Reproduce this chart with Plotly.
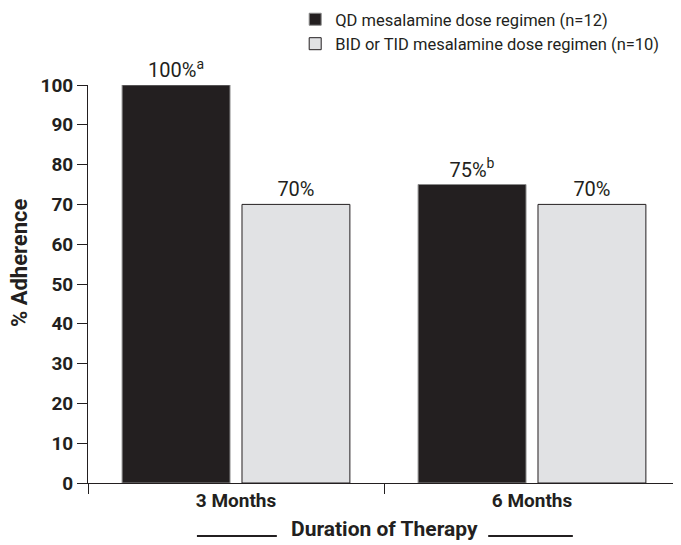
import plotly.graph_objects as go

categories = ["3 Months", "6 Months"]
qd_values = [100, 75]
qd_labels = ["100%<sup>a</sup>", "75%<sup>b</sup>"]
bid_values = [70, 70]
bid_labels = ["70%", "70%"]
series_names = ["QD mesalamine dose regimen (n=12)", "BID or TID mesalamine dose regimen (n=10)"]
y_ticks = [0, 10, 20, 30, 40, 50, 60, 70, 80, 90, 100]

FONT = "Roboto, Liberation Sans, sans-serif"
TXT = "#231f20"

fig = go.Figure()
fig.add_trace(go.Bar(
    x=categories, y=qd_values, name=series_names[0],
    marker=dict(color="#231f20", line=dict(color="#8a8a8a", width=1)),
    text=qd_labels, textposition="outside", cliponaxis=False,
    textfont=dict(family=FONT, size=20, color=TXT),
))
fig.add_trace(go.Bar(
    x=categories, y=bid_values, name=series_names[1],
    marker=dict(color="#e1e2e4", line=dict(color="#231f20", width=1)),
    text=bid_labels, textposition="outside", cliponaxis=False,
    textfont=dict(family=FONT, size=20, color=TXT),
))

# page body has an 8px margin; figure sized so the plot lands where the reference has it
fig.update_layout(
    width=673, height=537,
    margin=dict(l=80, r=1, t=77, b=62, autoexpand=False),
    paper_bgcolor="white", plot_bgcolor="white",
    barmode="group", bargap=0.19, bargroupgap=0.1,
    font=dict(family=FONT, color=TXT),
    showlegend=True,
    legend=dict(
        x=0.35, y=1.2085, xref="paper", yref="paper", xanchor="left", yanchor="top",
        font=dict(family=FONT, size=16.5, color=TXT),
        itemwidth=30, tracegroupgap=0, bgcolor="rgba(0,0,0,0)",
    ),
    xaxis=dict(
        tickson="boundaries", ticks="outside", ticklen=10, tickcolor=TXT,
        showline=True, linecolor=TXT, linewidth=1,
        tickfont=dict(family=FONT, size=19, color=TXT, weight="bold"),
        showgrid=False,
    ),
    yaxis=dict(
        range=[0, 100], tickvals=y_ticks, ticks="outside", ticklen=10, tickcolor=TXT,
        showline=True, linecolor=TXT, linewidth=1,
        tickfont=dict(family=FONT, size=19, color=TXT, weight="bold"),
        showgrid=False, zeroline=False,
    ),
)

fig.add_annotation(
    text="% Adherence", xref="paper", yref="paper", x=-0.1166, y=0.555,
    showarrow=False, xanchor="center", yanchor="middle", textangle=-90,
    font=dict(family=FONT, size=22, color=TXT, weight="bold"),
)
fig.add_annotation(
    text="Duration of Therapy", xref="paper", yref="paper", x=0.5, y=0, yshift=-46,
    showarrow=False, xanchor="center", yanchor="middle",
    font=dict(family=FONT, size=21, color=TXT, weight="bold"),
)
for x0, x1 in [(0.184, 0.319), (0.676, 0.819)]:
    fig.add_shape(type="line", xref="paper", yref="paper",
                  x0=x0, x1=x1, y0=-0.133, y1=-0.133,
                  line=dict(color=TXT, width=2))

fig.write_html("out.html")
